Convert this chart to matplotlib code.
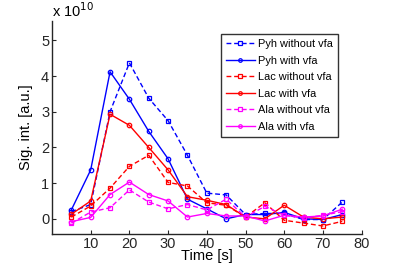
import matplotlib
matplotlib.use("Agg")
import matplotlib.pyplot as plt

time = [5, 10, 15, 20, 25, 30, 35, 40, 45, 50, 55, 60, 65, 70, 75]
pyh_without = [0.20, 0.40, 3.00, 4.37, 3.38, 2.75, 1.78, 0.72, 0.67, 0.12, 0.15, 0.15, -0.02, -0.02, 0.47]
pyh_with = [0.25, 1.37, 4.12, 3.35, 2.45, 1.68, 0.55, 0.28, 0.00, 0.12, 0.12, 0.18, 0.00, -0.02, 0.12]
lac_without = [0.05, 0.36, 0.86, 1.47, 1.78, 1.02, 0.92, 0.45, 0.38, 0.05, 0.45, -0.04, -0.12, -0.20, -0.07]
lac_with = [0.13, 0.50, 2.93, 2.62, 2.00, 1.37, 0.62, 0.52, 0.40, 0.05, 0.00, 0.38, 0.05, 0.00, 0.05]
ala_without = [-0.12, 0.19, 0.31, 0.81, 0.47, 0.28, 0.40, 0.25, 0.55, 0.05, 0.35, 0.10, 0.02, 0.10, 0.20]
ala_with = [-0.08, 0.04, 0.68, 1.03, 0.68, 0.50, 0.05, 0.15, 0.08, 0.08, -0.06, 0.10, 0.05, 0.08, 0.27]

series = [
    ("Pyh without vfa", pyh_without, (0, 0, 1), "--", "s"),
    ("Pyh with vfa", pyh_with, (0, 0, 1), "-", "o"),
    ("Lac without vfa", lac_without, (1, 0, 0), "--", "s"),
    ("Lac with vfa", lac_with, (1, 0, 0), "-", "o"),
    ("Ala without vfa", ala_without, (1, 0, 1), "--", "s"),
    ("Ala with vfa", ala_with, (1, 0, 1), "-", "o"),
]

plt.rcParams['font.family'] = ['Liberation Sans', 'DejaVu Sans']
fig = plt.figure(figsize=(4.0, 2.66), dpi=100)
ax = fig.add_axes([0.13, 0.121, 0.774, 0.801])

for label, vals, col, ls, mk in series:
    ax.plot(time, vals, color=col, linestyle=ls, marker=mk, markersize=3.2,
            markerfacecolor='none', markeredgewidth=0.9, linewidth=1.0, label=label,
            dashes=(3.5, 2) if ls == "--" else (None, None))

ax.set_xlim(0, 80)
ax.set_ylim(-0.42, 5.55)
ax.set_xticks([10, 20, 30, 40, 50, 60, 70, 80])
ax.set_yticks([0, 1, 2, 3, 4, 5])
ax.spines['top'].set_visible(False)
ax.spines['right'].set_visible(False)
for s in ['left', 'bottom']:
    ax.spines[s].set_linewidth(1.0)
    ax.spines[s].set_color('#262626')
ax.tick_params(direction='in', length=3, width=0.8, labelsize=10.5, colors='#262626', pad=2)
ax.set_xlabel("Time [s]", fontsize=10.5, labelpad=-1)
ax.set_ylabel("Sig. int. [a.u.]", fontsize=10.5, labelpad=6)
fig.text(0.13, 0.925, r"x 10$^{10}$", fontsize=10.5, ha='left', va='bottom')

leg = ax.legend(loc='upper left', bbox_to_anchor=(0.553, 0.872), bbox_transform=fig.transFigure,
                fontsize=7.9, frameon=True, fancybox=False, handlelength=2.6,
                handletextpad=0.3, labelspacing=0.6, borderpad=0.45, borderaxespad=0,
                markerscale=0.8)
leg.get_frame().set_edgecolor('black')
leg.get_frame().set_linewidth(1.0)

fig.savefig("out.png", dpi=100)
